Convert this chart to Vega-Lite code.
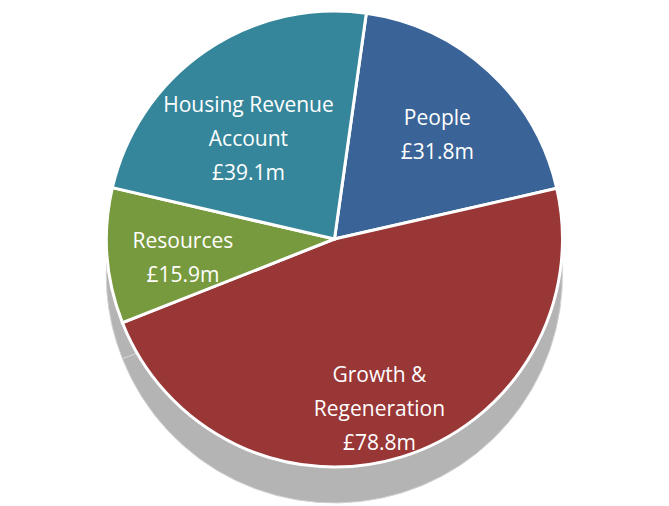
{
  "$schema": "https://vega.github.io/schema/vega-lite/v6.json",
  "width": 669,
  "height": 506,
  "autosize": {"type": "fit", "contains": "padding"},
  "padding": 0,
  "background": "white",
  "config": {"view": {"stroke": null}},
  "data": {
    "values": [
      {"segment": "People", "label": "People\n£31.8m", "value": 31.8},
      {"segment": "Growth & Regeneration", "label": "Growth &\nRegeneration\n£78.8m", "value": 78.8},
      {"segment": "Resources", "label": "Resources\n£15.9m", "value": 15.9},
      {"segment": "Housing Revenue Account", "label": "Housing Revenue\nAccount\n£39.1m", "value": 39.1}
    ]
  },
  "transform": [{"window": [{"op": "row_number", "as": "rank"}]}],
  "encoding": {
    "theta": {"field": "value", "type": "quantitative", "stack": true, "scale": {"range": [0.14, 6.4232]}},
    "order": {"field": "rank", "type": "quantitative"}
  },
  "layer": [
    {
      "mark": {"type": "arc", "outerRadius": 228, "yOffset": 22, "color": "#b4b4b4", "stroke": "#d2d2d2", "strokeWidth": 1}
    },
    {
      "mark": {"type": "arc", "outerRadius": 228, "yOffset": -14, "stroke": "white", "strokeWidth": 3},
      "encoding": {
        "color": {
          "field": "segment", "type": "nominal", "legend": null,
          "scale": {
            "domain": ["People", "Growth & Regeneration", "Resources", "Housing Revenue Account"],
            "range": ["#3a6498", "#993636", "#789a3e", "#35869a"]
          }
        }
      }
    },
    {
      "mark": {"type": "text", "radius": 152, "yOffset": -22, "color": "white", "font": "Open Sans", "fontSize": 21, "lineBreak": "\n", "lineHeight": 34, "align": "center", "baseline": "middle"},
      "encoding": {"text": {"field": "label", "type": "nominal"}}
    }
  ]
}
